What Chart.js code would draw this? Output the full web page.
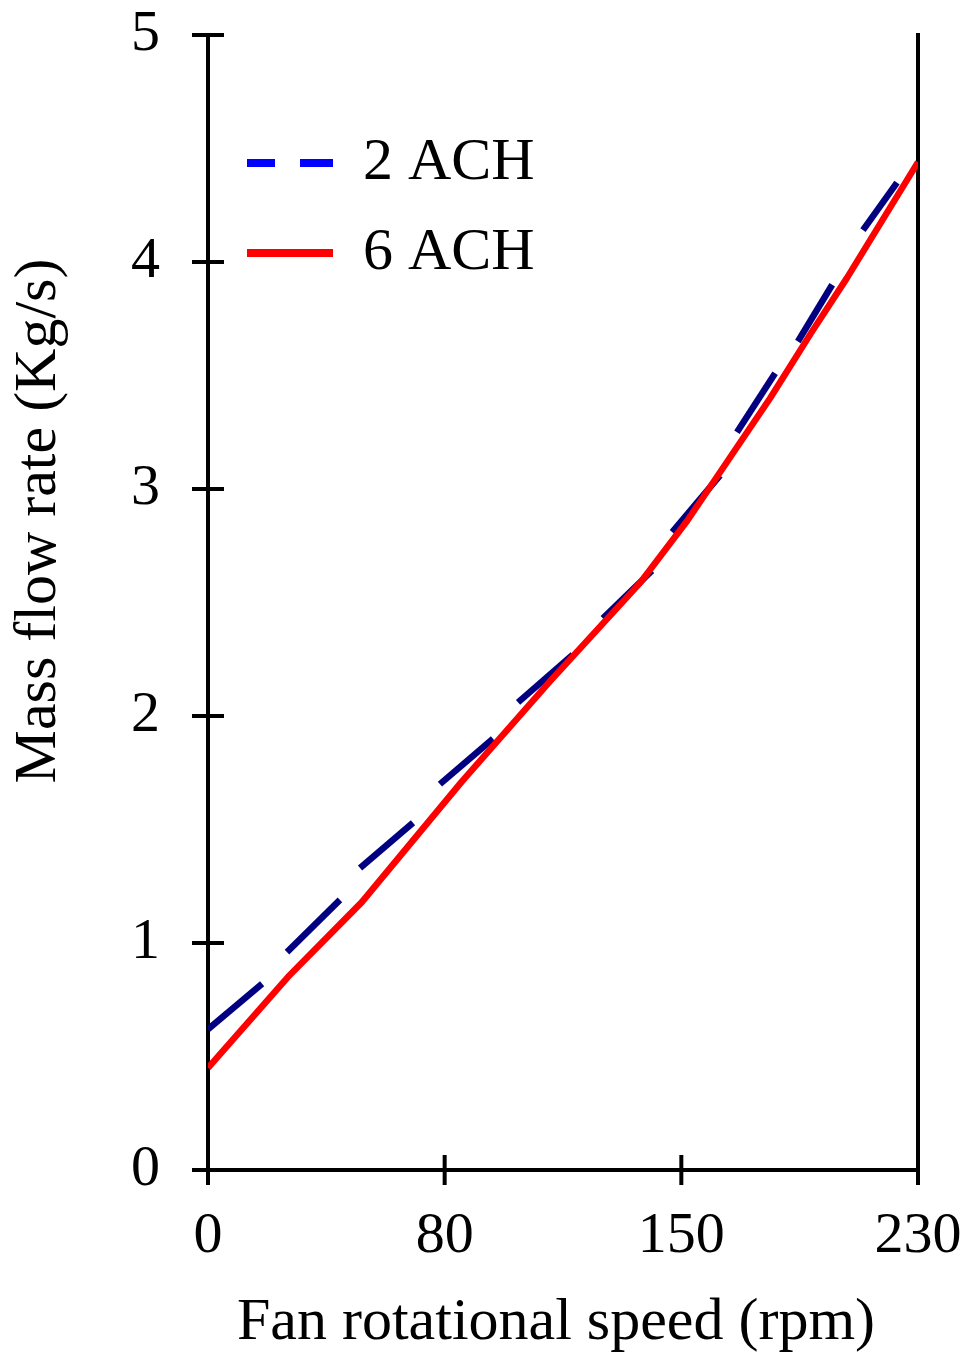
<!DOCTYPE html>
<html>
<head>
<meta charset="utf-8">
<script src="https://cdn.jsdelivr.net/npm/chart.js@4.4.0/dist/chart.umd.min.js"></script>
<style>
  html, body { margin: 0; padding: 0; background: #ffffff; }
  #wrap { width: 968px; height: 1359px; }
</style>
</head>
<body>
<div id="wrap"><canvas id="c" width="968" height="1359"></canvas></div>
<script>
// ---------------- data ----------------
const speedTicks = [0, 80, 150, 230];          // x tick labels (rpm), evenly spaced on the axis
const flowTicks = [0, 1, 2, 3, 4, 5];          // y tick values (kg/s)
const seriesNames = ['2 ACH', '6 ACH'];
const xTitle = 'Fan rotational speed (rpm)';
const yTitle = 'Mass flow rate (Kg/s)';

// 2 ACH (dashed) – start/end of each visible dash
const ach2Speed = [0, 18.3, 26.7, 44.6, 51.4, 69.3, 78.4, 94.3, 101.7, 117.9,
                   126.8, 141.3, 147.3, 163.1, 168.8, 181.7, 189.4, 201.0, 211.4, 222.9];
const ach2Flow  = [0.62, 0.82, 0.96, 1.19, 1.33, 1.53, 1.70, 1.90, 2.06, 2.27,
                   2.43, 2.64, 2.81, 3.06, 3.25, 3.51, 3.65, 3.90, 4.14, 4.35];

// 6 ACH (solid)
const ach6Speed = [0, 27, 52, 85, 111, 138, 152, 166, 180, 194, 206, 230];
const ach6Flow  = [0.45, 0.85, 1.18, 1.71, 2.15, 2.59, 2.86, 3.13, 3.40, 3.69, 3.93, 4.44];

// ---------------- helpers ----------------
// the x axis places the labelled speeds at equal spacing: map rpm -> axis position
function speedToAxis(s) {
  for (let i = 1; i < speedTicks.length; i++) {
    if (s <= speedTicks[i]) {
      return (i - 1) + (s - speedTicks[i - 1]) / (speedTicks[i] - speedTicks[i - 1]);
    }
  }
  return speedTicks.length - 1;
}
const toPoints = (xs, ys) => xs.map((s, i) => ({ x: speedToAxis(s), y: ys[i] }));

const FONT = 'Liberation Serif';
const NAVY = '#000080';
const RED = '#ff0000';
const legendStyle = [
  { color: '#0000ff', dash: [28, 25, 33, 60] },
  { color: RED, dash: [] }
];

// ---------------- plugins ----------------
const axisFrame = {
  id: 'axisFrame',
  beforeDatasetsDraw(chart) {
    const { ctx, chartArea: a, scales: { x, y } } = chart;
    ctx.save();
    ctx.strokeStyle = '#000';
    ctx.lineWidth = 4;
    ctx.lineCap = 'butt';
    ctx.beginPath();
    x.ticks.forEach(t => {
      const p = x.getPixelForValue(t.value);
      ctx.moveTo(p, a.bottom - 15);
      ctx.lineTo(p, a.bottom + 15);
    });
    y.ticks.forEach(t => {
      const p = y.getPixelForValue(t.value);
      ctx.moveTo(a.left - 16, p);
      ctx.lineTo(a.left + 16, p);
    });
    ctx.moveTo(a.right, a.top - 2);
    ctx.lineTo(a.right, a.bottom);
    ctx.stroke();
    ctx.restore();
  }
};

const titlesPlugin = {
  id: 'titlesPlugin',
  afterDraw(chart) {
    const { ctx, chartArea: a } = chart;
    ctx.save();
    ctx.font = '60px "' + FONT + '"';
    ctx.fillStyle = '#000';
    ctx.textAlign = 'center';
    ctx.textBaseline = 'middle';
    // x-axis title
    ctx.fillText(xTitle, (a.left + a.right) / 2 - 7, a.bottom + 153);
    // y-axis title (rotated)
    ctx.translate(a.left - 169, 521);
    ctx.rotate(-Math.PI / 2);
    ctx.fillText(yTitle, 0, 0);
    ctx.restore();
  }
};

const legendOffset = {
  id: 'legendOffset',
  afterLayout(chart) {
    if (chart.legend) {
      chart.legend.left = chart.chartArea.left + 9;
      chart.legend.top = chart.chartArea.top + 68;
    }
  }
};

// ---------------- chart ----------------
Chart.defaults.font.family = FONT;
Chart.defaults.color = '#000';

new Chart(document.getElementById('c'), {
  type: 'line',
  data: {
    datasets: [
      {
        label: seriesNames[0],
        data: toPoints(ach2Speed, ach2Flow),
        borderColor: NAVY,
        borderWidth: 6.5,
        borderCapStyle: 'butt',
        pointRadius: 0,
        tension: 0,
        order: 2,
        segment: {
          borderColor: c => (c.p0DataIndex % 2 === 0 ? NAVY : 'rgba(0,0,0,0)')
        }
      },
      {
        label: seriesNames[1],
        data: toPoints(ach6Speed, ach6Flow),
        borderColor: RED,
        borderWidth: 6.5,
        borderJoinStyle: 'round',
        tension: 0,
        pointRadius: 0,
        order: 1
      }
    ]
  },
  options: {
    responsive: false,
    animation: false,
    devicePixelRatio: 1,
    layout: { padding: { left: 0, top: 35, right: 50, bottom: 0 } },
    scales: {
      x: {
        type: 'linear',
        position: 'bottom',
        min: 0,
        max: speedTicks.length - 1,
        grid: { display: false, drawTicks: true, tickLength: 32 },
        border: { display: true, color: '#000', width: 4 },
        ticks: {
          stepSize: 1,
          autoSkip: false,
          maxRotation: 0,
          padding: 0,
          font: { size: 58, family: FONT },
          color: '#000',
          callback: v => speedTicks[v]
        },
        afterFit: s => { s.height = 189; }
      },
      y: {
        type: 'linear',
        position: 'left',
        min: flowTicks[0],
        max: flowTicks[flowTicks.length - 1],
        grid: { display: false, drawTicks: true, tickLength: 48 },
        border: { display: true, color: '#000', width: 4 },
        ticks: {
          stepSize: 1,
          padding: 0,
          font: { size: 58, family: FONT },
          color: '#000'
        },
        afterFit: s => { s.width = 208; }
      }
    },
    plugins: {
      tooltip: { enabled: false },
      legend: {
        position: 'chartArea',
        align: 'start',
        labels: {
          usePointStyle: true,
          pointStyle: 'line',
          pointStyleWidth: 86,
          padding: 30,
          font: { size: 60, family: FONT },
          color: '#000',
          generateLabels: chart => chart.data.datasets.map((ds, i) => ({
            text: ds.label,
            fillStyle: legendStyle[i].color,
            strokeStyle: legendStyle[i].color,
            lineWidth: 8,
            lineDash: legendStyle[i].dash,
            lineCap: 'butt',
            pointStyle: 'line',
            hidden: false,
            datasetIndex: i,
            fontColor: '#000'
          }))
        }
      }
    }
  },
  plugins: [axisFrame, titlesPlugin, legendOffset]
});
</script>
</body>
</html>
